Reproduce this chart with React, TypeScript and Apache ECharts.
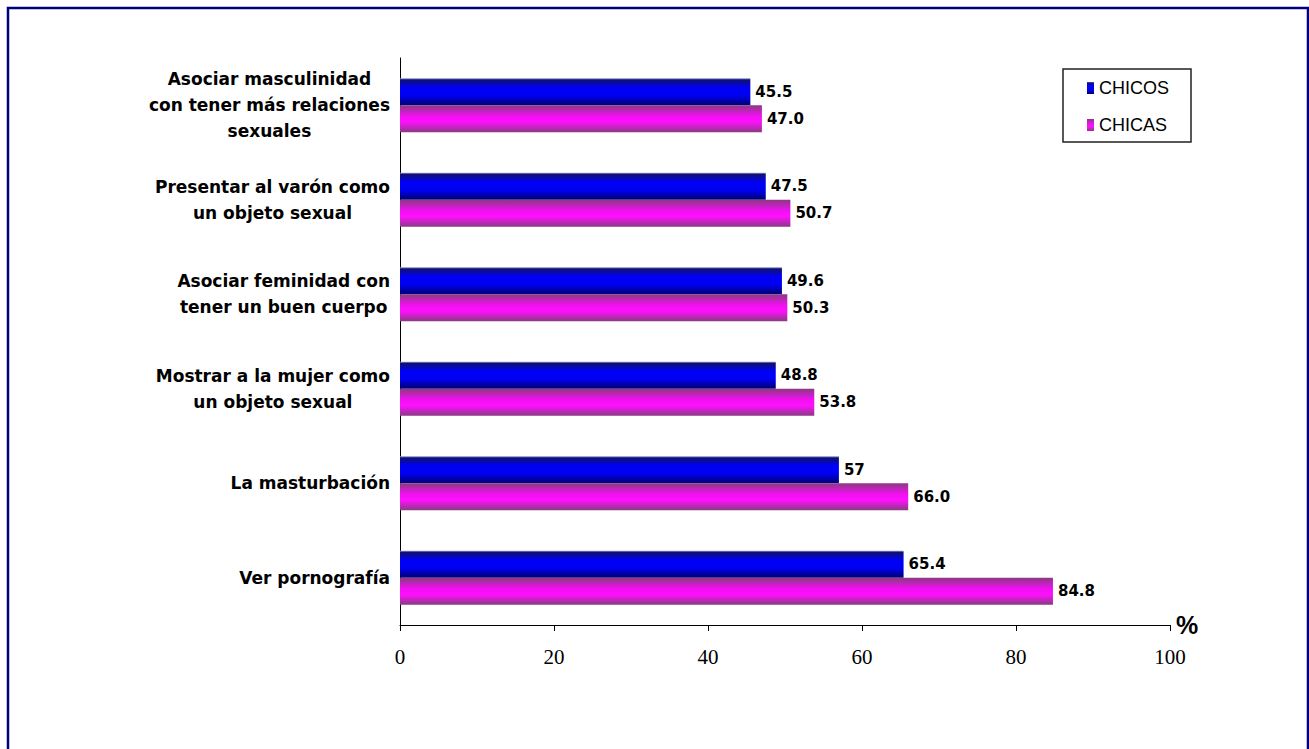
import React, { useEffect, useRef } from "react";
import * as echarts from "echarts";

const categories: string[] = [
  "Asociar masculinidad\ncon tener más relaciones\nsexuales",
  "Presentar al varón como\nun objeto sexual",
  "Asociar feminidad con\ntener un buen cuerpo",
  "Mostrar a la mujer como\nun objeto sexual",
  "La masturbación",
  "Ver pornografía",
];
const seriesNames: string[] = ["CHICOS", "CHICAS"];
const chicosValues: number[] = [45.5, 47.5, 49.6, 48.8, 57, 65.4];
const chicasValues: number[] = [47.0, 50.7, 50.3, 53.8, 66.0, 84.8];
const chicosLabels: string[] = ["45.5", "47.5", "49.6", "48.8", "57", "65.4"];
const chicasLabels: string[] = ["47.0", "50.7", "50.3", "53.8", "66.0", "84.8"];
const xMin = 0;
const xMax = 100;
const xInterval = 20;

const blueGrad = () =>
  new echarts.graphic.LinearGradient(0, 0, 0, 1, [
    { offset: 0, color: "#9aa0d8" },
    { offset: 0.06, color: "#101070" },
    { offset: 0.35, color: "#0000f8" },
    { offset: 0.65, color: "#0000f0" },
    { offset: 1, color: "#000070" },
  ]);
const pinkGrad = () =>
  new echarts.graphic.LinearGradient(0, 0, 0, 1, [
    { offset: 0, color: "#8a3a80" },
    { offset: 0.4, color: "#f010f0" },
    { offset: 0.62, color: "#ff10ff" },
    { offset: 1, color: "#8a3a82" },
  ]);

export default function App() {
  const ref = useRef<HTMLDivElement>(null);
  useEffect(() => {
    if (!ref.current) return;
    const chart = echarts.init(ref.current, null, { renderer: "svg" });
    const labelFont = {
      fontFamily: "'DejaVu Sans', sans-serif",
      fontWeight: "bold" as const,
      fontSize: 15,
      color: "#000",
    };
    chart.setOption({
      animation: false,
      backgroundColor: "#ffffff",
      graphic: [
        {
          type: "rect",
          shape: { x: 8, y: 8, width: 1300, height: 760 },
          style: { fill: "none", stroke: "#000080", lineWidth: 2.5 },
          silent: true,
        },
      ],
      legend: {
        data: seriesNames,
        orient: "vertical",
        left: 1063,
        top: 69,
        padding: [10, 22, 8, 24],
        itemGap: 19,
        itemWidth: 7,
        itemHeight: 12,
        borderColor: "#222",
        borderWidth: 1.5,
        borderRadius: 0,
        icon: "rect",
        textStyle: {
          fontFamily: "'Liberation Sans', Arial, sans-serif",
          fontSize: 18,
          color: "#000",
          lineHeight: 18,
        },
      },
      grid: { left: 400, right: 139, top: 58, bottom: 124, containLabel: false },
      xAxis: {
        type: "value",
        min: xMin,
        max: xMax,
        interval: xInterval,
        name: "%",
        nameLocation: "end",
        nameGap: 6,
        nameTextStyle: {
          fontFamily: "'Liberation Sans', Arial, sans-serif",
          fontWeight: "bold",
          fontSize: 25,
          color: "#000",
          verticalAlign: "middle",
          padding: [6, 0, 0, 0],
        },
        splitLine: { show: false },
        axisLine: { show: true, lineStyle: { color: "#000", width: 1 } },
        axisTick: { show: true, length: 6, lineStyle: { color: "#000" } },
        axisLabel: {
          margin: 21,
          fontFamily: "'Liberation Serif', 'Times New Roman', serif",
          fontSize: 21,
          color: "#000",
        },
      },
      yAxis: {
        type: "category",
        inverse: true,
        data: categories,
        axisLine: { show: true, lineStyle: { color: "#000", width: 1 } },
        axisTick: { show: false },
        axisLabel: {
          margin: 10,
          align: "right",
          formatter: (v: string) =>
            v
              .split("\n")
              .map((l) => `{c|${l}}`)
              .join("\n"),
          rich: {
            c: {
              align: "center",
              fontFamily: "'DejaVu Sans', sans-serif",
              fontWeight: "bold",
              fontSize: 17,
              lineHeight: 26,
              color: "#000",
            },
          },
        },
      },
      series: [
        {
          name: seriesNames[0],
          type: "bar",
          data: chicosValues,
          barWidth: 27,
          barGap: "0%",
          itemStyle: { color: blueGrad() },
          label: {
            show: true,
            position: "right",
            distance: 5,
            ...labelFont,
            formatter: (p: any) => chicosLabels[p.dataIndex],
          },
        },
        {
          name: seriesNames[1],
          type: "bar",
          data: chicasValues,
          barWidth: 27,
          barGap: "0%",
          itemStyle: { color: pinkGrad() },
          label: {
            show: true,
            position: "right",
            distance: 5,
            ...labelFont,
            formatter: (p: any) => chicasLabels[p.dataIndex],
          },
        },
      ],
    });
    return () => chart.dispose();
  }, []);
  return (
    <div
      ref={ref}
      style={{ position: "absolute", left: 0, top: 0, width: 1309, height: 749 }}
    />
  );
}
